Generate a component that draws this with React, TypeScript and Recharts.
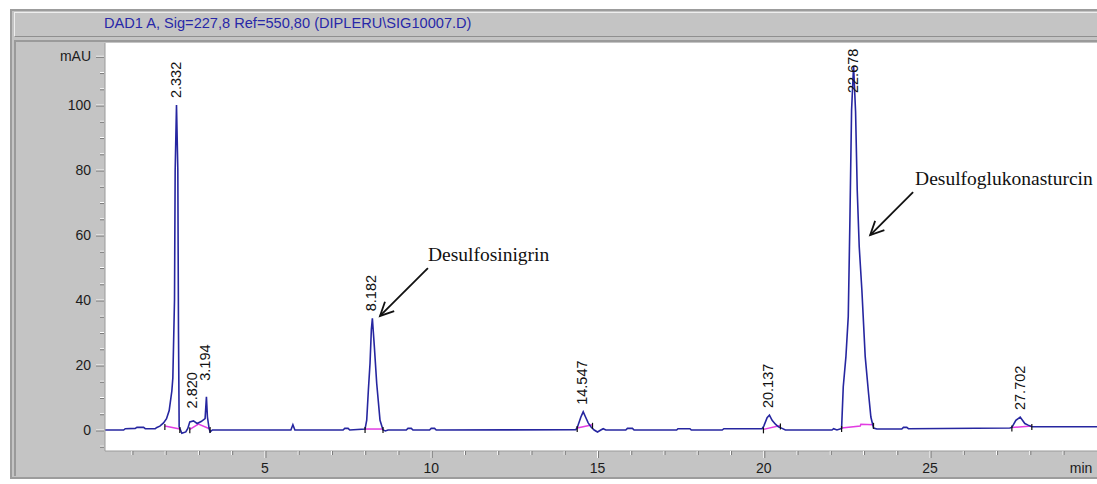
import { ComposedChart, Line, Scatter, XAxis, YAxis, CartesianGrid, ReferenceLine, ReferenceDot } from 'recharts'

// chromatogram trace (min, mAU)
const TIME = [
  0.19, 0.75, 0.8, 1.1, 1.15, 1.35, 1.4, 1.7, 1.75, 1.84, 1.95, 2.04, 2.12, 2.2, 2.23, 2.28, 2.3, 2.34, 2.38, 2.4,
  2.42, 2.5, 2.62, 2.68, 2.74, 2.85, 2.96, 3.08, 3.2, 3.24, 3.27, 3.32, 3.35, 3.42, 5.78, 5.84, 5.9, 7.35, 7.4, 7.5,
  7.55, 8.01, 8.06, 8.11, 8.16, 8.2, 8.23, 8.26, 8.29, 8.36, 8.46, 8.55, 8.62, 8.7, 9.25, 9.3, 9.4, 9.45, 9.95, 10.0,
  10.1, 10.15, 14.35, 14.4, 14.5, 14.57, 14.64, 14.72, 14.8, 14.9, 15.0, 15.1, 15.17, 15.25, 15.85, 15.9, 16.05, 16.1, 17.38, 17.42,
  17.78, 17.82, 18.75, 18.8, 19.95, 20.0, 20.1, 20.17, 20.25, 20.35, 20.44, 20.55, 20.65, 22.05, 22.1, 22.2, 22.34, 22.39, 22.47, 22.54,
  22.59, 22.64, 22.7, 22.76, 22.81, 22.87, 22.95, 23.05, 23.15, 23.22, 23.3, 23.4, 24.15, 24.2, 24.3, 24.35, 27.4, 27.46, 27.58, 27.71,
  27.85, 27.95, 28.06, 30.02,
]
const MAU = [
  0, 0, 0.4, 0.5, 0.8, 0.8, 0.4, 0.4, 0.8, 1.2, 2.2, 3.5, 6, 12, 16, 40, 80, 100, 80, 30,
  1, -1, -0.6, 0.5, 2.5, 2.8, 2, 2.6, 3.5, 10.2, 4, 0.5, -0.6, 0, 0, 1.6, 0, 0, 0.5, 0.5,
  0, 0.3, 3, 12.3, 20.6, 31, 34.4, 30, 25.6, 14.4, 3, 0, -0.3, 0, 0, 0.5, 0.5, 0, 0, 0.5,
  0.5, 0, 0.1, 1, 4, 5.6, 4, 2.2, 1, 0, -0.6, 0, 0.4, 0, 0, 0.5, 0.5, 0, 0, 0.4,
  0.4, 0, 0, 0.4, 0.4, 1.2, 3.8, 4.6, 3, 1.8, 1, 0.5, 0, 0, 0.4, 0, 0.5, 13.3, 22.6, 34.9,
  64.6, 98.5, 112, 98, 73.8, 56.4, 43, 22.6, 11.3, 4, 0.6, 0.3, 0.3, 0.8, 0.8, 0.4, 0.6, 0.8, 3, 4,
  2, 1.5, 1, 1,
]

// integration baselines (magenta), one list of [min, mAU] per peak group
const BASELINES = [
  [[1.99, 1.2], [2.44, 0.3]],
  [[2.74, 0.2], [3.0, 1.8], [3.35, 0.3]],
  [[8.01, 0.3], [8.55, 0.3]],
  [[14.39, 0.6], [14.85, 1.6]],
  [[19.99, 0.2], [20.5, 1.4]],
  [[22.34, 0.6], [22.9, 1.2], [22.92, 1.8], [23.3, 1.6]],
  [[27.46, 0.8], [28.06, 1.2]],
]

const PEAK_TIMES = [2.332, 2.82, 3.194, 8.182, 14.547, 20.137, 22.678, 27.702]
const PEAK_HEIGHTS = [100, 4.5, 13, 34.4, 5.6, 4.6, 112, 4]
const PEAK_LABELS = ['2.332', '2.820', '3.194', '8.182', '14.547', '20.137', '22.678', '27.702']

const Y_TICKS = [-5, 0, 5, 10, 15, 20, 25, 30, 35, 40, 45, 50, 55, 60, 65, 70, 75, 80, 85, 90, 95, 100, 105, 110, 115]
const Y_LABELS = [0, 20, 40, 60, 80, 100]
const X_TICKS = [1, 2, 3, 4, 5, 6, 7, 8, 9, 10, 11, 12, 13, 14, 15, 16, 17, 18, 19, 20, 21, 22, 23, 24, 25, 26, 27, 28, 29, 29.54]
const X_LABELS = [5, 10, 15, 20, 25]

const TITLE = 'DAD1 A, Sig=227,8 Ref=550,80 (DIPLERU\\SIG10007.D)'

const GRAY = '#c4c4c4'
const TRACE = '#2626a0'
const SANS = '"Liberation Sans", Arial, sans-serif'
const SERIF = '"Liberation Serif", "Times New Roman", serif'

const trace = TIME.map((t, i) => ({ t, v: MAU[i] }))
const peaks = PEAK_TIMES.map((t, i) => ({ t, v: PEAK_HEIGHTS[i], label: PEAK_LABELS[i] }))
const baselines = BASELINES.map(seg => seg.map(([t, v]) => ({ t, v })))
const marks = BASELINES.flatMap(seg => [seg[0], seg[seg.length - 1]]).map(([t, v]) => ({ t, v }))

function YTick({ x, y, payload }: any) {
  const v = payload.value
  const major = Y_LABELS.includes(v)
  const unit = v === 115
  return (
    <g>
      <line x1={x - (major || unit ? 9 : 5)} x2={x - 1} y1={y} y2={y} stroke="#ffffff" strokeWidth={1} />
      <line x1={x - (major || unit ? 9 : 5)} x2={x - 1} y1={y + 1} y2={y + 1} stroke="#7a7a7a" strokeWidth={1} />
      {(major || unit) && (
        <text x={x - 14} y={y} textAnchor="end" dominantBaseline="central" fontFamily={SANS} fontSize={14} fill="#1c1c1c">
          {unit ? 'mAU' : v}
        </text>
      )}
    </g>
  )
}

function XTick({ x, y, payload }: any) {
  const v = payload.value
  if (v === 29.54) {
    return (
      <text x={x} y={y + 17} textAnchor="middle" dominantBaseline="central" fontFamily={SANS} fontSize={14} fill="#1c1c1c">
        min
      </text>
    )
  }
  const major = X_LABELS.includes(v)
  return (
    <g>
      <line x1={x} x2={x} y1={y} y2={y + (major ? 7 : 4)} stroke="#ffffff" strokeWidth={1} />
      <line x1={x + 1} x2={x + 1} y1={y} y2={y + (major ? 7 : 4)} stroke="#7a7a7a" strokeWidth={1} />
      {major && (
        <text x={x} y={y + 17} textAnchor="middle" dominantBaseline="central" fontFamily={SANS} fontSize={14} fill="#1c1c1c">
          {v}
        </text>
      )}
    </g>
  )
}

function PeakLabel({ cx, cy, payload }: any) {
  // labels are kept inside the plot top edge
  const bottom = Math.max(cy - 7, 93)
  return (
    <text
      x={cx}
      y={bottom}
      transform={`rotate(-90 ${cx} ${bottom})`}
      textAnchor="start"
      dominantBaseline="central"
      fontFamily={SANS}
      fontSize={14.5}
      fill="#111"
    >
      {payload.label}
    </text>
  )
}

function Mark({ cx, cy }: any) {
  return <line x1={cx} x2={cx} y1={cy - 2} y2={cy + 4} stroke="#111" strokeWidth={1.2} />
}

function Arrow({ x1, y1, x2, y2 }: any) {
  const a = Math.atan2(y2 - y1, x2 - x1)
  const len = 15
  const s = 0.45
  const p1 = [x2 - len * Math.cos(a - s), y2 - len * Math.sin(a - s)]
  const p2 = [x2 - len * Math.cos(a + s), y2 - len * Math.sin(a + s)]
  return (
    <g stroke="#111" strokeWidth={1.8} fill="none">
      <line x1={x1} y1={y1} x2={x2} y2={y2} />
      <polyline points={`${p1[0]},${p1[1]} ${x2},${y2} ${p2[0]},${p2[1]}`} />
    </g>
  )
}

const note = (text: string) => ({ cx, cy }: any) => (
  <text x={cx} y={cy} fontFamily={SERIF} fontSize={19.5} fill="#111">
    {text}
  </text>
)

export default function App() {
  return (
    <div style={{ position: 'relative', width: 1097, height: 484, background: '#ffffff', overflow: 'hidden' }}>
      <style>{'body{margin:0}'}</style>
      {/* instrument frame */}
      <div style={{ position: 'absolute', left: 10, top: 9, width: 1100, height: 470, background: GRAY, borderLeft: '2px solid #9c9c9c', borderTop: '2px solid #9c9c9c', borderBottom: '2px solid #9c9c9c', boxSizing: 'border-box' }} />
      <div style={{ position: 'absolute', left: 14, top: 12, width: 1100, height: 25, borderLeft: '1px solid #eeeeee', borderTop: '1px solid #eeeeee', borderBottom: '1px solid #8f8f8f', boxSizing: 'border-box' }} />
      <div style={{ position: 'absolute', left: 14, top: 40, width: 1100, height: 436, borderLeft: '2px solid #9a9a9a', borderTop: '2px solid #9a9a9a', boxSizing: 'border-box' }} />
      <div style={{ position: 'absolute', left: 104, top: 15, fontFamily: SANS, fontSize: 14.6, color: '#2828a8', whiteSpace: 'nowrap' }}>
        {TITLE}
      </div>
      <div style={{ position: 'absolute', left: 0, top: 0 }}>
        <ComposedChart width={1097} height={484} margin={{ top: 43, right: 0, bottom: 0, left: 0 }}>
          <CartesianGrid horizontal={false} vertical={false} fill="#ffffff" />
          <XAxis
            type="number"
            dataKey="t"
            domain={[0.19, 30.02]}
            ticks={X_TICKS}
            interval={0}
            allowDataOverflow
            height={33}
            tickSize={0}
            tickMargin={0}
            tickLine={false}
            axisLine={{ stroke: '#9a9a9a' }}
            tick={<XTick />}
          />
          <YAxis
            type="number"
            dataKey="v"
            domain={[-6.46, 119.1]}
            ticks={Y_TICKS}
            interval={0}
            allowDataOverflow
            width={105}
            tickSize={0}
            tickMargin={0}
            tickLine={false}
            axisLine={{ stroke: '#9a9a9a' }}
            tick={<YTick />}
          />
          {baselines.map((seg, i) => (
            <Line key={i} data={seg} dataKey="v" type="linear" stroke="#e23ce2" strokeWidth={1.5} dot={false} isAnimationActive={false} />
          ))}
          <Line data={trace} dataKey="v" type="linear" stroke={TRACE} strokeWidth={1.6} dot={false} isAnimationActive={false} />
          <Scatter data={marks} dataKey="v" shape={<Mark />} isAnimationActive={false} />
          <Scatter data={peaks} dataKey="v" shape={<PeakLabel />} isAnimationActive={false} />
          <ReferenceLine segment={[{ x: 9.9, y: 49.8 }, { x: 8.46, y: 35.1 }]} shape={<Arrow />} />
          <ReferenceLine segment={[{ x: 24.49, y: 73.2 }, { x: 23.2, y: 60 }]} shape={<Arrow />} />
          <ReferenceDot x={9.9} y={51.9} shape={note('Desulfosinigrin')} />
          <ReferenceDot x={24.55} y={75.5} shape={note('Desulfoglukonasturcin')} />
        </ComposedChart>
      </div>
    </div>
  )
}
